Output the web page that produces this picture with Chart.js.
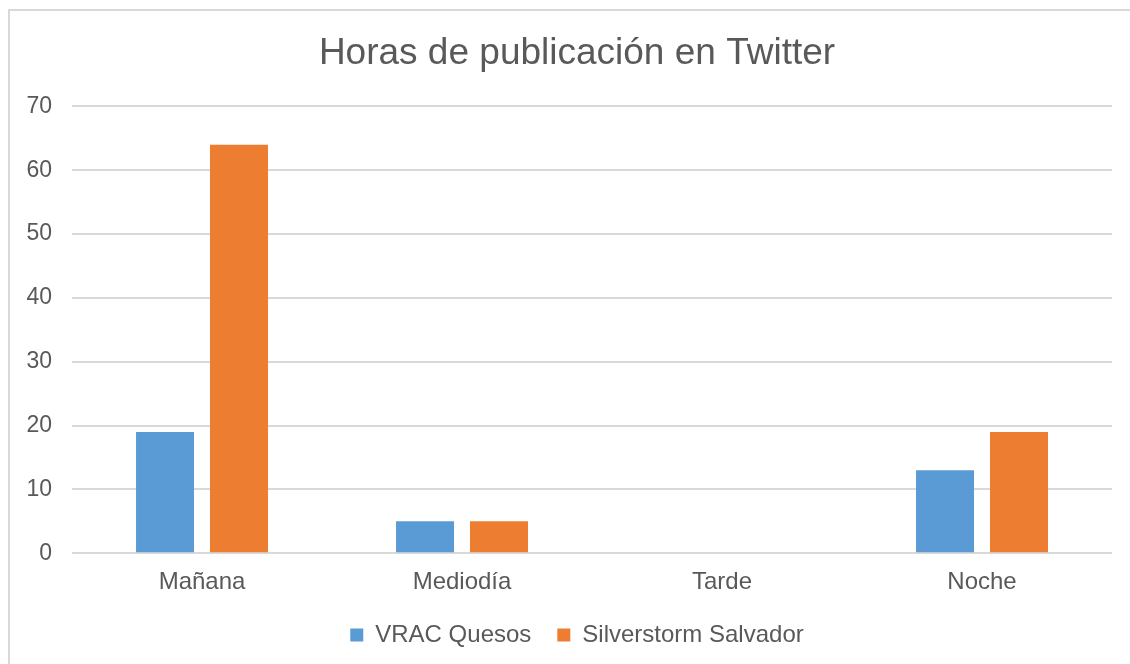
<!DOCTYPE html>
<html>
<head>
<meta charset="utf-8">
<script src="https://cdn.jsdelivr.net/npm/chart.js@4"></script>
<style>
	html, body { margin: 0; padding: 0; background: #fff; overflow: hidden; }
	#frame { position: absolute; left: 8px; top: 9px; width: 1140px; height: 670px; border: 2px solid #d9d9d9; box-sizing: border-box; }
	#wrap { position: absolute; left: 0; top: 0; width: 1130px; height: 664px; }
</style>
</head>
<body>
<div id="frame"></div>
<div id="wrap"><canvas id="grafico"></canvas></div>
<script>
// datos
const categorias = ['Mañana', 'Mediodía', 'Tarde', 'Noche'];
const vracQuesos = [19, 5, 0, 13];
const silverstorm = [64, 5, 0, 19];
const ticksY = [0, 10, 20, 30, 40, 50, 60, 70];

const gris = '#595959';
Chart.defaults.font.family = '"Liberation Sans", Arial, sans-serif';
Chart.defaults.color = gris;

// el marco original es mas ancho que la imagen: titulo y leyenda van centrados en x=577
const centrarCajas = {
	id: 'centrarCajas',
	afterLayout(chart) {
		const cx = 577;
		[chart.titleBlock, chart.legend].forEach(function(b) {
			const dx = cx - (b.left + b.right) / 2;
			b.left += dx;
			b.right += dx;
		});
		chart.legend.top -= 7;
		chart.legend.bottom -= 7;
	}
};

new Chart(document.getElementById('grafico'), {
	type: 'bar',
	plugins: [centrarCajas],
	data: {
		labels: categorias,
		datasets: [{
			label: 'VRAC Quesos',
			data: vracQuesos,
			backgroundColor: '#5b9bd5',
			barPercentage: 0.784,
			categoryPercentage: 0.569
		}, {
			label: 'Silverstorm Salvador',
			data: silverstorm,
			backgroundColor: '#ed7d31',
			barPercentage: 0.784,
			categoryPercentage: 0.569
		}]
	},
	options: {
		responsive: true,
		maintainAspectRatio: false,
		animation: false,
		layout: { padding: { left: 0, right: 18, top: 0, bottom: 0 } },
		plugins: {
			title: {
				display: true,
				text: 'Horas de publicación en Twitter',
				color: gris,
				font: { size: 37, weight: 'normal' },
				padding: { top: 32, bottom: 30 }
			},
			legend: {
				position: 'bottom',
				labels: {
					color: gris,
					font: { size: 24 },
					boxWidth: 13,
					boxHeight: 13,
					padding: 26
				}
			},
			tooltip: { enabled: false }
		},
		scales: {
			x: {
				grid: { display: false },
				border: { display: false },
				ticks: { color: gris, font: { size: 24 }, padding: 7 }
			},
			y: {
				min: 0,
				max: 70,
				afterFit: function(scale) { scale.width = 72; },
				afterBuildTicks: function(scale) { scale.ticks = ticksY.map(v => ({ value: v })); },
				grid: { color: '#d9d9d9', lineWidth: 2, drawTicks: false },
				border: { display: false },
				ticks: { color: gris, font: { size: 23 }, padding: 20 }
			}
		}
	}
});
</script>
</body>
</html>
